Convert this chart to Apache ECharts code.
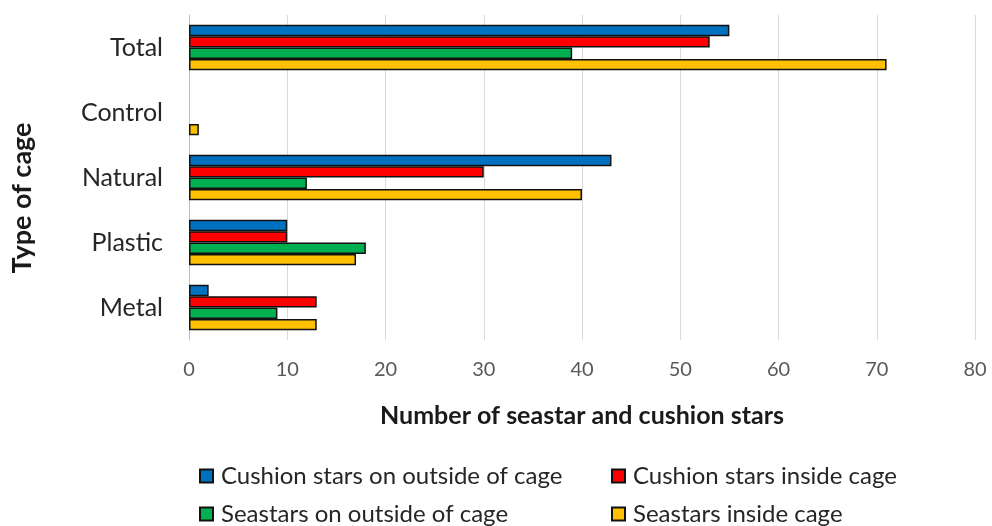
<!DOCTYPE html>
<html>
<head>
<meta charset="utf-8">
<script src="https://cdn.jsdelivr.net/npm/echarts@6/dist/echarts.min.js"></script>
<style>
  html, body { margin: 0; padding: 0; background: #ffffff; }
  #chart { width: 992px; height: 526px; }
</style>
</head>
<body>
<div id="chart"></div>
<script>
// Cage types, listed top to bottom
const categories = ['Total', 'Control', 'Natural', 'Plastic', 'Metal'];

// Counts per cage type
const cushionOutside = [55, null, 43, 10, 2];
const cushionInside  = [53, null, 30, 10, 13];
const seastarOutside = [39, null, 12, 18, 9];
const seastarInside  = [71, 1, 40, 17, 13];

const seriesNames = [
  'Cushion stars on outside of cage',
  'Cushion stars inside cage',
  'Seastars on outside of cage',
  'Seastars inside cage'
];
const seriesColors = ['#0070C0', '#FF0000', '#00B050', '#FFC000'];
const seriesData = [cushionOutside, cushionInside, seastarOutside, seastarInside];

const FONT = 'Lato, "Open Sans", sans-serif';

const chart = echarts.init(document.getElementById('chart'), null, { renderer: 'canvas' });

// One legend block per entry, laid out as a 2 x 2 table
const legendSlots = [
  { left: 199, top: 464 },
  { left: 611, top: 464 },
  { left: 199, top: 502 },
  { left: 611, top: 502 }
];
const legends = seriesNames.map((name, i) => ({
  data: [name],
  left: legendSlots[i].left,
  top: legendSlots[i].top,
  padding: 0,
  icon: 'rect',
  itemWidth: 13,
  itemHeight: 13,
  selectedMode: false,
  textStyle: { fontFamily: FONT, fontSize: 24, color: '#262626', padding: [0, 0, 0, 3] }
}));

chart.setOption({
  animation: false,
  backgroundColor: '#ffffff',
  grid: { left: 189, right: 17, top: 15, bottom: 186, containLabel: false },
  legend: legends,
  graphic: [{
    type: 'text',
    x: 22,
    y: 198,
    rotation: Math.PI / 2,
    style: {
      text: 'Type of cage',
      fontFamily: FONT,
      fontSize: 27,
      fontWeight: 'bold',
      fill: '#1a1a1a',
      align: 'center',
      verticalAlign: 'middle'
    }
  }],
  xAxis: {
    type: 'value',
    min: 0,
    max: 80,
    interval: 10,
    name: 'Number of seastar and cushion stars',
    nameLocation: 'middle',
    nameGap: 63,
    nameTextStyle: { fontFamily: FONT, fontSize: 25, fontWeight: 'bold', color: '#1a1a1a' },
    axisLine: { show: false },
    axisTick: { show: false },
    axisLabel: { fontFamily: FONT, fontSize: 20, color: '#595959', margin: 20 },
    splitLine: { show: true, lineStyle: { color: '#d9d9d9', width: 1 } }
  },
  yAxis: {
    type: 'category',
    inverse: true,
    data: categories,
    axisLine: { show: true, lineStyle: { color: '#bfbfbf', width: 1 } },
    axisTick: { show: false },
    axisLabel: { fontFamily: FONT, fontSize: 25, color: '#262626', margin: 26 },
    splitLine: { show: false }
  },
  series: seriesNames.map((name, i) => ({
    name: name,
    type: 'bar',
    data: seriesData[i],
    barGap: '0%',
    barCategoryGap: '30%',
    itemStyle: { color: seriesColors[i], borderColor: '#111111', borderWidth: 1.5 }
  }))
});
</script>
</body>
</html>
